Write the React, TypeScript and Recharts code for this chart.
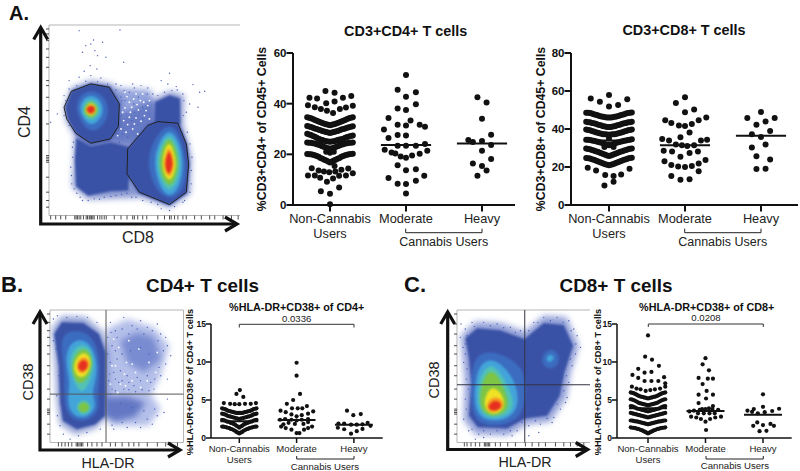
import { ScatterChart, Scatter, XAxis, YAxis, ReferenceLine, ReferenceArea } from "recharts";

type Pair = number[];

const categoryLines = [["Non-Cannabis", "Users"], ["Moderate"], ["Heavy"]];
const categoryTicks = [0, 100, 200];
const rowOffsets = [-30, -25, -20, -15, -10, -5, 0, 5, 10, 15, 20, 25, 30];
const midOffsets = [-27.5, -22.5, -17.5, -12.5, -7.5, -2.5, 2.5, 7.5, 12.5, 17.5, 22.5, 27.5];

// Panel A, CD4
const cd4Ticks = [0, 20, 40, 60];
const cd4NonRows = [
  [34.6, 34.2, 33.6, 33, 32.4, 31.9, 31.5, 31.9, 32.4, 33, 33.6, 34.2, 34.6],
  [31.2, 30.8, 30.2, 29.7, 29.2, 28.8, 28.4, 28.8, 29.2, 29.8, 30.2, 30.7, 31.1],
  [28.1, 27.6, 26.9, 26.2, 25.7, 25.2, 25, 25.2, 25.7, 26, 26.5, 27, 27.4],
  [24.7, 24.6, 24.3, 23.8, 23.2, 22.6, 22.2, 22.6, 23.2, 23.8, 24.3, 24.6, 24.7],
  [20.1, 20, 19.6, 19, 18.3, 17.6, 16.8, 17.6, 18.3, 19, 19.6, 20, 20.2],
];
const cd4NonMid = [
  [34.4, 33.9, 33.3, 32.7, 32.1, 31.7, 31.7, 32.1, 32.7, 33.3, 33.9, 34.4],
  [31, 30.5, 30, 29.5, 29, 28.6, 28.6, 29, 29.5, 30, 30.5, 30.9],
  [27.8, 27.2, 26.5, 25.9, 25.4, 25.1, 25.1, 25.4, 25.9, 26.2, 26.8, 27.2],
  [24.6, 24.4, 24, 23.5, 22.9, 22.4, 22.4, 22.9, 23.5, 24, 24.4, 24.6],
  [20, 19.8, 19.3, 18.6, 17.9, 17.2, 17.2, 17.9, 18.6, 19.3, 19.8, 20.1],
];
const cd4NonSingles: Pair[] = [
  [-6, 45], [6, 44.3], [-27, 42.3], [-17, 42], [17, 42.3], [28, 43], [-5, 40.2], [6, 40.9],
  [-29, 39.4], [-20, 38.6], [-12, 37.9], [-4, 37.2], [4, 36.3], [13, 37.9], [21, 38.5], [30, 39.2],
  [-5, 21], [5, 21], [0, 20.6], [6, 15.4],
  [-24, 14.5], [-15, 13.6], [-8, 13.2], [-1, 12.9], [7, 13.2], [15, 13.9], [24, 14.4],
  [-29, 11.6], [-20, 11.6], [-13, 10.8], [-4, 9.2], [4, 10.5], [12, 11.5], [21, 11.6], [30, 12.5],
  [-12, 5.4], [0, 4.4], [12, 6.9], [0, 0.3],
];
const cd4Moderate: Pair[] = [
  [0, 51.3], [-11, 45.5], [13, 44.5], [0, 42.7], [13, 39.8], [-11, 38.1], [0, 37.5], [-23, 34.3], [6, 33.4],
  [-11, 31.7], [0, 31.4], [18, 31.7], [25, 30.9], [-29, 29.8], [-23, 26.4], [-11, 27.6], [0, 27.4], [25, 24.1],
  [-11, 23.4], [0, 23.4], [13, 23.4], [-28, 21.8], [-19, 20.7], [-14, 20.3], [-7, 19.1], [0, 18.7], [8, 19.5],
  [18, 20.2], [28, 21.4], [-11, 15.7], [0, 13.7], [13, 14.1], [-23, 10.7], [24, 11.5], [13, 9.6], [-11, 8.4],
  [0, 8.3], [0, 4.5],
];
const cd4Heavy: Pair[] = [
  [-6, 42.5], [6, 40.5], [0, 34], [12, 27.7], [-18, 25.7], [-12, 24.9], [0, 25.3], [12, 23.7], [0, 21.4],
  [12, 18.2], [-12, 16.4], [0, 15.4], [6, 13.6], [-6, 11.5],
];
const cd4Means = [24.7, 23.7, 24.3];

// Panel A, CD8
const cd8Ticks = [0, 20, 40, 60, 80];
const cd8NonRows = [
  [48.6, 48.4, 47.8, 47.2, 46.6, 46.2, 46, 46.2, 46.6, 47.2, 47.8, 48.4, 48.7],
  [43.8, 43.5, 43, 42.4, 41.8, 41.3, 41, 41.3, 41.8, 42.4, 43, 43.5, 43.8],
  [39.7, 39.3, 38.7, 38, 37.5, 37.2, 37, 37.2, 37.5, 38, 38.7, 39.3, 39.7],
  [34.4, 34.2, 33.8, 33.3, 32.8, 32, 31.4, 32, 32.8, 33.3, 33.8, 34.2, 34.6],
  [29.7, 29.4, 28.7, 28, 27.3, 26.5, 25.8, 26.5, 27.3, 28, 28.7, 29.4, 29.8],
  [24.8, 24.5, 23.8, 23, 22.3, 21.5, 20.9, 21.5, 22.3, 23, 23.8, 24.5, 24.9],
];
const cd8NonMid = [
  [48.5, 48.1, 47.5, 46.9, 46.4, 46.1, 46.1, 46.4, 46.9, 47.5, 48.1, 48.5],
  [43.6, 43.2, 42.7, 42.1, 41.5, 41.1, 41.1, 41.5, 42.1, 42.7, 43.2, 43.6],
  [39.5, 39, 38.3, 37.7, 37.3, 37.1, 37.1, 37.3, 37.7, 38.3, 39, 39.5],
  [34.3, 34, 33.5, 33, 32.4, 31.7, 31.7, 32.4, 33, 33.5, 34, 34.4],
  [29.5, 29, 28.3, 27.6, 26.9, 26.1, 26.1, 26.9, 27.6, 28.3, 29, 29.6],
  [24.6, 24.1, 23.4, 22.6, 21.9, 21.2, 21.2, 21.9, 22.6, 23.4, 24.1, 24.7],
];
const cd8NonSingles: Pair[] = [
  [0, 57.9], [-24, 56.1], [24, 55.6], [-12, 54.4], [0, 51.9], [12, 52.6], [-6, 30.5], [6, 30.5], [0, 35],
  [-28, 19.6], [-17, 18.2], [-5, 15.8], [6, 15.3], [16, 16.1], [27, 19.1], [6, 12.3], [-6, 10.2],
];
const cd8Moderate: Pair[] = [
  [0, 56.7], [-12, 53.7], [12, 50.2], [0, 48.8], [-26, 44.6], [-18, 43.2], [-8, 41.9], [0, 41.6], [9, 42.6],
  [18, 44.6], [28, 46.1], [6, 38.1], [-6, 35.6], [-30, 34.7], [-21, 33.9], [21, 33.9], [29, 34.4], [-12, 31.9],
  [-4, 31.4], [3, 31], [12, 31.4], [-28, 28.6], [-17, 28.2], [6, 27.4], [17, 28.1], [-6, 25.4], [-27, 23],
  [27, 23.7], [-18, 21], [-9, 20.2], [0, 20], [9, 20.5], [18, 21.9], [-18, 15.3], [18, 17.7], [-6, 13.3], [6, 13.5],
];
const cd8Heavy: Pair[] = [
  [0, 49], [-18, 45.8], [18, 45.8], [6, 43.9], [-6, 42.3], [12, 38.9], [-12, 37.2], [0, 35.8], [6, 31.9],
  [-12, 30.2], [-6, 25.6], [12, 24], [-6, 18.9], [6, 19.1],
];
const cd8Means = [34, 31.4, 36.5];

// Panel B
const smallTicks = [0, 5, 10, 15];
const drCd4NonRows = [
  [3.9, 3.8, 3.6, 3.5, 3.4, 3.3, 3.3, 3.3, 3.4, 3.5, 3.6, 3.8, 3.9],
  [3.2, 3.1, 2.9, 2.8, 2.7, 2.6, 2.5, 2.6, 2.7, 2.8, 2.9, 3.1, 3.2],
  [2.4, 2.3, 2.15, 2, 1.85, 1.6, 1.35, 1.6, 1.85, 2, 2.15, 2.3, 2.4],
  [1.5, 1.45, 1.35, 1.2, 1.05, 0.8, 0.6, 0.8, 1.05, 1.2, 1.35, 1.45, 1.5],
];
const drCd4NonMid = [
  [3.85, 3.7, 3.55, 3.45, 3.35, 3.3, 3.3, 3.35, 3.45, 3.55, 3.7, 3.85],
  [3.15, 3, 2.85, 2.75, 2.65, 2.55, 2.55, 2.65, 2.75, 2.85, 3, 3.15],
  [2.35, 2.2, 2.1, 1.95, 1.75, 1.5, 1.5, 1.75, 1.95, 2.1, 2.2, 2.35],
  [1.5, 1.4, 1.3, 1.15, 0.95, 0.7, 0.7, 0.95, 1.15, 1.3, 1.4, 1.5],
];
const drCd4NonSingles: Pair[] = [
  [1, 6.3], [-5, 5.8], [7, 5.4], [-27, 4.6], [-16, 4.5], [-8, 4.45], [0, 4.45], [10, 4.5], [20, 4.5], [29, 4.6],
];
const drCd4Moderate: Pair[] = [
  [0, 9.9], [0, 8.2], [6, 5.8], [-6, 5], [-17, 4.5], [2, 3.9], [-8, 3.9], [18, 4.2], [10, 3.9], [-28, 3.6],
  [-19, 3.4], [-9, 3.1], [0, 2.85], [9, 3], [20, 3.2], [29, 3.5], [-29, 2.4], [-20, 2.5], [-9, 2.4], [0, 2.3],
  [9, 2.4], [20, 2.5], [-27, 1.5], [-19, 1.3], [-9, 1.1], [0, 0.65], [5, 0.65], [13, 1.1], [20, 1.3], [27, 1.5],
  [-14, 2], [-3, 1.85], [12, 1.85], [20, 2.1], [-23, 1.8],
];
const drCd4Heavy: Pair[] = [
  [-12, 3.6], [-1, 3], [12, 3.15], [-27, 1.9], [-17, 1.9], [-5, 1.75], [5, 1.75], [15, 1.8], [24, 2], [29, 1.6],
  [-28, 1.35], [-17, 1.15], [-5, 0.57], [5, 0.9], [15, 1.2],
];
const drCd4Means = [2.2, 2.37, 1.75];

// Panel C
const drCd8NonRows = [
  [6, 5.9, 5.7, 5.5, 5.4, 5.3, 5.2, 5.3, 5.4, 5.5, 5.7, 5.9, 6],
  [5.1, 5, 4.8, 4.6, 4.5, 4.4, 4.3, 4.4, 4.5, 4.6, 4.8, 5, 5.1],
  [4.2, 4.1, 3.9, 3.8, 3.7, 3.6, 3.5, 3.6, 3.7, 3.8, 3.9, 4.1, 4.2],
  [3.3, 3.2, 3.1, 3, 2.9, 2.8, 2.7, 2.8, 2.9, 3, 3.1, 3.2, 3.3],
  [2.3, 2.25, 2.2, 2.1, 2, 1.9, 1.8, 1.9, 2, 2.1, 2.2, 2.25, 2.3],
  [1.4, 1.35, 1.25, 1.15, 1, 0.8, 0.6, 0.8, 1, 1.15, 1.25, 1.35, 1.4],
];
const drCd8NonMid = [
  [5.95, 5.8, 5.6, 5.45, 5.35, 5.25, 5.25, 5.35, 5.45, 5.6, 5.8, 5.95],
  [5.05, 4.9, 4.7, 4.55, 4.45, 4.35, 4.35, 4.45, 4.55, 4.7, 4.9, 5.05],
  [4.15, 4, 3.85, 3.75, 3.65, 3.55, 3.55, 3.65, 3.75, 3.85, 4, 4.15],
  [3.25, 3.15, 3.05, 2.95, 2.85, 2.75, 2.75, 2.85, 2.95, 3.05, 3.15, 3.25],
  [2.3, 2.2, 2.15, 2.05, 1.95, 1.85, 1.85, 1.95, 2.05, 2.15, 2.2, 2.3],
  [1.35, 1.3, 1.2, 1.05, 0.9, 0.7, 0.7, 0.9, 1.05, 1.2, 1.3, 1.35],
];
const drCd8NonSingles: Pair[] = [
  [0, 13.5], [-5, 10.7], [7, 10.3], [-17, 9.1], [19, 9.5], [-27, 8.3], [-6, 8.6], [6, 8.7], [28, 8], [-17, 7.9],
  [-6, 7.5], [6, 7.5], [18, 7.5], [30, 7.2], [-28, 6.75], [-20, 6.5], [-13, 6.4], [-4, 6.2], [4, 6.3], [12, 6.4],
  [21, 6.5], [30, 6.75],
];
const drCd8Moderate: Pair[] = [
  [0, 10.5], [-5, 9.7], [6, 8.9], [-12, 7.9], [4, 7.8], [13, 7.8], [-5, 7.1], [2, 6.2], [-12, 5.7], [13, 5.7],
  [1, 5.2], [-12, 4.6], [13, 4.2], [6, 3.9], [-6, 3.8], [-28, 3.5], [-20, 3.6], [-10, 3.7], [0, 3.8], [12, 3.8],
  [22, 3.7], [-13, 3.25], [-3, 3.25], [7, 3.25], [16, 3.25], [-25, 2.8], [-16, 2.7], [-8, 2.5], [0, 2.15], [8, 2.5],
  [17, 2.7], [27, 2.8], [1, 1.05],
];
const drCd8Heavy: Pair[] = [
  [0, 5.75], [0, 4.1], [-16, 3.8], [28, 3.85], [-27, 3.6], [-19, 3.45], [-9, 3.25], [3, 3.4], [16, 3.55], [-17, 1.6],
  [-10, 2.05], [0, 1.7], [13, 1.85], [19, 1.6], [-6, 0.9], [6, 0.95],
];
const drCd8Means = [3.9, 3.55, 3.07];

// Flow plots: readings on an arbitrary fluorescence scale
const densityColors = ["#3a52a6", "#3b6cc0", "#43a4da", "#52c2b4", "#7ec544", "#f0e224", "#f6981f", "#e5301f"];
type Contour = { level: number; pts: Pair[] };
type Cloud = { pts: Pair[]; color: string; opacity: number };

const aDomainX = [145, 717];
const aDomainY = [73, 645];
const aRugX = [150, 165, 180, 195, 222, 226, 230, 235, 240, 248, 256, 260, 265, 268, 272, 276, 280, 290, 297, 303, 310, 316, 340, 360, 378, 395, 400, 410, 425, 437, 470, 490, 505, 510, 520, 530, 545, 555, 580, 600, 625, 640, 665, 690, 710];
const aRugY = [85, 100, 120, 145, 170, 200, 240, 255, 290, 330, 370, 420, 465, 470, 475, 480, 485, 530, 575, 600, 620];
const aClouds: Cloud[] = [
  { pts: [[335, 262], [450, 268], [470, 372], [400, 425], [340, 425], [352, 330]], color: "#6f84d0", opacity: 0.75 },
  { pts: [[222, 410], [215, 560], [262, 596], [420, 590], [505, 622], [566, 580], [570, 470], [545, 370], [548, 285], [505, 272], [460, 295]], color: "#5268bb", opacity: 0.7 },
  { pts: [[192, 320], [212, 262], [270, 240], [335, 250], [364, 310], [340, 420], [230, 420], [196, 360]], color: "#5268bb", opacity: 0.7 },
];
const aDensity: Contour[] = [
  { level: 0, pts: [[192, 320], [212, 270], [270, 248], [328, 258], [358, 310], [354, 380], [328, 420], [270, 432], [225, 400], [200, 355]] },
  { level: 0, pts: [[226, 412], [270, 436], [330, 425], [388, 440], [382, 570], [330, 572], [262, 586], [226, 558], [222, 480]] },
  { level: 0, pts: [[376, 520], [378, 445], [440, 372], [470, 360], [532, 365], [558, 430], [565, 490], [558, 578], [505, 615], [412, 578]] },
  { level: 0, pts: [[462, 304], [505, 284], [536, 294], [538, 372], [460, 372]] },
  { level: 1, pts: [[222, 320], [238, 282], [270, 268], [308, 282], [326, 325], [312, 372], [275, 398], [243, 372]] },
  { level: 2, pts: [[234, 320], [248, 293], [270, 283], [296, 294], [310, 325], [298, 357], [272, 378], [247, 356]] },
  { level: 3, pts: [[243, 325], [254, 301], [270, 294], [290, 303], [300, 327], [289, 349], [270, 362], [250, 349]] },
  { level: 4, pts: [[248, 327], [257, 308], [270, 302], [285, 310], [293, 327], [284, 345], [270, 353], [254, 343]] },
  { level: 5, pts: [[252, 327], [261, 312], [270, 307], [281, 313], [288, 327], [280, 341], [270, 347], [258, 340]] },
  { level: 6, pts: [[254, 327], [262, 315], [270, 311], [280, 316], [285, 327], [279, 338], [270, 343], [260, 337]] },
  { level: 7, pts: [[256, 327], [263, 318], [270, 314], [279, 318], [284, 327], [278, 336], [270, 340], [261, 335]] },
  { level: 1, pts: [[436, 490], [456, 418], [494, 372], [530, 382], [555, 470], [556, 560], [510, 604], [462, 570]] },
  { level: 2, pts: [[456, 482], [474, 420], [505, 382], [534, 420], [549, 490], [535, 562], [505, 594], [474, 560]] },
  { level: 3, pts: [[464, 485], [480, 428], [505, 396], [528, 430], [541, 490], [528, 548], [505, 576], [480, 548]] },
  { level: 4, pts: [[472, 487], [486, 432], [505, 408], [523, 440], [534, 490], [522, 538], [505, 560], [485, 538]] },
  { level: 5, pts: [[482, 487], [492, 440], [505, 424], [517, 450], [526, 490], [517, 526], [505, 542], [490, 526]] },
  { level: 6, pts: [[487, 487], [496, 452], [504, 438], [513, 460], [520, 490], [513, 516], [504, 532], [493, 516]] },
  { level: 7, pts: [[491, 487], [498, 462], [504, 450], [510, 466], [515, 490], [510, 510], [503, 522], [495, 510]] },
];
const aCd4Gate: Pair[] = [[190, 320], [212, 272], [270, 250], [325, 260], [355, 310], [352, 378], [328, 415], [270, 428], [225, 398], [198, 355]];
const aCd8Gate: Pair[] = [[378, 520], [380, 445], [440, 375], [470, 363], [530, 368], [555, 430], [562, 490], [555, 575], [505, 612], [415, 575]];
const aSpecks: Pair[] = [
  [235, 90], [357, 88], [278, 118], [305, 125], [270, 130], [255, 135], [282, 150], [245, 155], [290, 165], [315, 170], [368, 185], [268, 195], [288, 205], [250, 212], [270, 225], [235, 230], [300, 232], [205, 240],
  [345, 250], [360, 255], [395, 250], [420, 255], [505, 218], [480, 240], [500, 250], [525, 258], [575, 252], [595, 275], [610, 272], [590, 320], [565, 310], [548, 300], [555, 335], [150, 365], [190, 285], [170, 340],
  [215, 440], [210, 500], [213, 550], [228, 578], [245, 600], [280, 595], [310, 590], [345, 585], [378, 578], [405, 590], [450, 605], [480, 625], [505, 630], [550, 600], [570, 550], [572, 470], [558, 395],
  [360, 290], [372, 300], [385, 275], [398, 310], [412, 290], [425, 320], [438, 280], [445, 340], [375, 340], [392, 360], [410, 372], [365, 400], [380, 410], [425, 355], [400, 335], [355, 425], [370, 270], [455, 280],
  [218, 425], [216, 470], [212, 525], [220, 565], [238, 590], [262, 600], [296, 596], [330, 588], [362, 582], [392, 590], [425, 600], [470, 612], [520, 618], [545, 605], [566, 575], [570, 510], [566, 430], [546, 345],
  [545, 280], [528, 268], [512, 270], [490, 275], [470, 285], [195, 300], [205, 265], [228, 255], [255, 242], [290, 243], [320, 250], [345, 268], [362, 300], [362, 345], [350, 400], [190, 345], [205, 375], [400, 262], [440, 262],
];
const aHoles: Pair[] = [
  [372, 322], [388, 335], [405, 352], [418, 300], [430, 345], [395, 385], [380, 372], [412, 328], [440, 315], [368, 360], [398, 295], [425, 280], [385, 305], [360, 385], [410, 400], [445, 300],
  [378, 288], [392, 320], [405, 280], [420, 362], [435, 330], [365, 335], [375, 395], [400, 370], [385, 350], [428, 305], [445, 355], [408, 312], [372, 275], [350, 405],
];

const bDomainX = [150, 548];
const bDomainY = [133, 530];
const bRugX = [175, 185, 195, 205, 215, 228, 232, 236, 240, 244, 248, 262, 275, 290, 305, 330, 345, 365, 385, 400, 415, 440, 470, 495, 510, 530];
const bRugY = [145, 170, 195, 215, 240, 265, 300, 325, 370, 400, 430, 435, 440, 445, 475, 505];
const bClouds: Cloud[] = [
  { pts: [[318, 190], [380, 160], [460, 185], [505, 240], [480, 330], [450, 385], [480, 430], [445, 480], [330, 480], [318, 440]], color: "#8c9cdd", opacity: 0.65 },
  { pts: [[360, 225], [410, 200], [460, 215], [482, 280], [430, 320], [380, 290]], color: "#5c72c4", opacity: 0.65 },
  { pts: [[316, 395], [380, 392], [435, 410], [405, 452], [345, 468], [316, 455]], color: "#4f65ba", opacity: 0.8 },
  { pts: [[155, 190], [185, 152], [255, 155], [305, 195], [325, 260], [325, 450], [285, 488], [225, 505], [180, 475], [170, 400], [165, 300]], color: "#5268bb", opacity: 0.65 },
];
const bDensity: Contour[] = [
  { level: 0, pts: [[162, 205], [185, 170], [250, 172], [296, 205], [316, 260], [316, 380], [314, 450], [285, 476], [230, 490], [188, 465], [180, 410], [176, 300]] },
  { level: 1, pts: [[178, 225], [202, 195], [258, 195], [294, 242], [300, 330], [290, 392], [300, 438], [250, 474], [200, 450], [191, 392], [195, 320]] },
  { level: 2, pts: [[192, 280], [214, 222], [262, 220], [292, 280], [288, 342], [272, 385], [294, 425], [250, 464], [208, 442], [202, 392], [212, 350]] },
  { level: 3, pts: [[205, 290], [225, 238], [264, 236], [284, 285], [272, 347], [245, 388], [222, 352]] },
  { level: 4, pts: [[213, 295], [232, 252], [264, 248], [281, 290], [264, 337], [240, 358], [220, 337]] },
  { level: 5, pts: [[220, 295], [238, 262], [264, 262], [275, 295], [260, 328], [240, 338], [224, 322]] },
  { level: 6, pts: [[227, 297], [244, 272], [264, 277], [270, 300], [254, 323], [234, 323]] },
  { level: 7, pts: [[232, 297], [246, 280], [262, 287], [263, 305], [249, 318], [236, 313]] },
  { level: 3, pts: [[220, 425], [250, 393], [282, 425], [250, 456]] },
  { level: 4, pts: [[228, 425], [250, 403], [274, 425], [250, 447]] },
];
const bSpecks: Pair[] = [
  [160, 160], [172, 150], [200, 155], [230, 152], [262, 155], [290, 170], [168, 250], [160, 225], [176, 330], [170, 390], [172, 450], [180, 480], [190, 505], [210, 520], [235, 510], [260, 500], [300, 490], [340, 490],
  [380, 485], [420, 485], [455, 475], [490, 440], [500, 400], [500, 340], [510, 270], [495, 215], [470, 175], [420, 165], [370, 155], [330, 170], [345, 195], [335, 240], [350, 280], [340, 320], [355, 350], [335, 370],
  [380, 330], [400, 360], [420, 345], [370, 370], [450, 350], [395, 180], [440, 185], [480, 205], [500, 240], [480, 330], [460, 370], [330, 290], [325, 345], [360, 315], [410, 335], [440, 330], [385, 350], [345, 375],
  [322, 215], [332, 200], [350, 215], [365, 190], [385, 205], [410, 190], [430, 205], [455, 195], [472, 225], [488, 255], [495, 295], [475, 305], [462, 340], [445, 375], [425, 372], [405, 378], [385, 372], [365, 345],
  [345, 340], [328, 325], [322, 265], [345, 255], [365, 265], [390, 255], [420, 245], [445, 265], [330, 385], [360, 412], [395, 425], [430, 435], [462, 430], [470, 450], [440, 460], [405, 470], [365, 470], [335, 478],
];
const bHoles: Pair[] = [
  [345, 300], [372, 325], [395, 345], [420, 365], [360, 355], [335, 300], [378, 290], [405, 320], [440, 345], [355, 245], [340, 220], [385, 225], [465, 320], [415, 250], [445, 290], [375, 360], [330, 355], [470, 260], [395, 295], [352, 380],
];

const cDomainX = [170, 570];
const cDomainY = [133, 530];
const cRugX = [192, 200, 212, 225, 238, 252, 256, 260, 264, 268, 285, 300, 322, 345, 375, 395, 415, 435, 465, 490, 510, 530, 550];
const cRugY = [145, 175, 205, 240, 265, 300, 330, 370, 400, 430, 435, 440, 445, 475, 505];
const cClouds: Cloud[] = [
  { pts: [[182, 210], [225, 168], [300, 172], [372, 198], [430, 150], [498, 155], [535, 240], [510, 320], [498, 395], [450, 468], [380, 475], [322, 508], [225, 505], [190, 462], [194, 350], [188, 280]], color: "#5f74c4", opacity: 0.7 },
];
const cDensity: Contour[] = [
  { level: 0, pts: [[195, 218], [230, 188], [300, 194], [372, 220], [430, 172], [490, 178], [518, 240], [492, 320], [478, 390], [440, 450], [375, 458], [320, 488], [232, 484], [206, 450], [212, 350], [206, 280]] },
  { level: 1, pts: [[212, 300], [240, 256], [300, 262], [362, 298], [378, 350], [373, 442], [320, 480], [244, 480], [210, 442]] },
  { level: 2, pts: [[226, 320], [255, 280], [296, 286], [343, 340], [358, 410], [332, 460], [258, 470], [218, 432]] },
  { level: 3, pts: [[234, 340], [262, 296], [292, 306], [328, 370], [344, 420], [317, 454], [258, 460], [230, 422]] },
  { level: 4, pts: [[242, 360], [264, 310], [292, 326], [313, 375], [329, 420], [302, 449], [260, 451], [236, 422]] },
  { level: 5, pts: [[247, 410], [269, 360], [297, 372], [318, 415], [297, 444], [263, 446]] },
  { level: 6, pts: [[255, 420], [274, 392], [302, 397], [313, 420], [292, 438], [266, 440]] },
  { level: 7, pts: [[262, 420], [281, 402], [302, 410], [303, 426], [286, 436], [268, 433]] },
  { level: 1, pts: [[417, 280], [445, 245], [478, 262], [474, 303], [440, 314]] },
  { level: 2, pts: [[432, 280], [450, 262], [464, 274], [451, 294]] },
];
const cSpecks: Pair[] = [
  [182, 175], [195, 190], [215, 170], [250, 170], [290, 175], [330, 185], [360, 195], [400, 170], [430, 155], [470, 155], [505, 165], [530, 210], [540, 245], [515, 300], [505, 350], [500, 395], [480, 430], [455, 470], [420, 475], [385, 480],
  [350, 495], [310, 505], [270, 505], [235, 505], [205, 495], [190, 460], [195, 400], [198, 340], [190, 290], [188, 245], [180, 215], [415, 500], [385, 510], [525, 265], [495, 410], [460, 455], [335, 510], [250, 515], [225, 520], [520, 190],
  [200, 210], [222, 182], [270, 180], [310, 186], [345, 200], [385, 195], [412, 170], [450, 165], [488, 170], [512, 195], [526, 235], [510, 280], [498, 330], [490, 375], [470, 415], [440, 458], [405, 465], [365, 470], [330, 495], [290, 495],
  [250, 495], [215, 490], [198, 430], [204, 370], [200, 310], [195, 265], [195, 235],
];

function rowsToPoints(rows: number[][], mids: number[][]): Pair[] {
  return [
    ...rows.flatMap((row) => row.map((v, i) => [rowOffsets[i], v])),
    ...mids.flatMap((row) => row.map((v, i) => [midOffsets[i], v])),
  ];
}

function toPoints(center: number, pairs: Pair[]) {
  return pairs.map(([dx, y]) => ({ x: center + dx, y }));
}

function toXY(pts: Pair[]) {
  return pts.map(([x, y]) => ({ x, y }));
}

interface SwarmProps {
  left: number;
  right: number;
  top: number;
  bottom: number;
  firstCenter: number;
  step: number;
  ticks: number[];
  groups: Pair[][];
  means: number[];
  meanSpan: number;
  dot: number;
  big: boolean;
}

function Swarm(p: SwarmProps) {
  const pad = 30;
  const k = p.step / 100;
  const domain = [(p.left - p.firstCenter) / k, (p.right - p.firstCenter) / k];
  const tickFont = p.big ? 11.5 : 8.6;
  const catFont = p.big ? 12.8 : 9.6;
  const gap = p.big ? 15 : 11;
  const tickLen = p.big ? 6.5 : 5;
  const axisW = p.big ? 2 : 1.5;
  const CatTick = (t: any) => (
    <text x={t.x} y={t.y + (p.big ? 10 : 7)} textAnchor="middle" fontSize={catFont} fill="#222">
      {categoryLines[t.payload.value / 100].map((line, i) => (
        <tspan key={line} x={t.x} dy={i === 0 ? 0 : gap}>{line}</tspan>
      ))}
    </text>
  );
  return (
    <div style={{ position: "absolute", left: p.left - pad, top: p.top - 10 }}>
      <ScatterChart
        width={p.right - p.left + pad}
        height={p.bottom - p.top + 50}
        margin={{ top: 10, right: 0, bottom: 0, left: 0 }}
      >
        <XAxis
          type="number"
          dataKey="x"
          domain={domain}
          ticks={categoryTicks}
          interval={0}
          height={40}
          tick={CatTick}
          tickSize={tickLen}
          axisLine={{ stroke: "#111", strokeWidth: axisW }}
          tickLine={{ stroke: "#111", strokeWidth: axisW }}
        />
        <YAxis
          type="number"
          dataKey="y"
          width={pad}
          domain={[p.ticks[0], p.ticks[p.ticks.length - 1]]}
          ticks={p.ticks}
          interval={0}
          tickSize={tickLen}
          tickMargin={0}
          tick={{ fontSize: tickFont, fontWeight: "bold", fill: "#111" }}
          axisLine={{ stroke: "#111", strokeWidth: axisW }}
          tickLine={{ stroke: "#111", strokeWidth: axisW }}
        />
        {p.groups.map((g, i) => (
          <Scatter
            key={i}
            data={toPoints(categoryTicks[i], g)}
            isAnimationActive={false}
            shape={(s: any) => <circle cx={s.cx} cy={s.cy} r={p.dot} fill="#111" />}
          />
        ))}
        {p.means.map((m, i) => (
          <ReferenceLine
            key={i}
            segment={[
              { x: categoryTicks[i] - p.meanSpan, y: m },
              { x: categoryTicks[i] + p.meanSpan, y: m },
            ]}
            stroke="#111"
            strokeWidth={2}
          />
        ))}
      </ScatterChart>
    </div>
  );
}

interface FlowProps {
  left: number;
  top: number;
  size: number;
  domainX: number[];
  domainY: number[];
  rugX: number[];
  rugY: number[];
  density: Contour[];
  clouds: Cloud[];
  specks: Pair[];
  holes?: Pair[];
  gates?: Pair[][];
  crossX?: number;
  crossY?: number;
  crossColor?: string;
}

function FlowPlot(p: FlowProps) {
  const pad = 10;
  const w = p.size + pad + 1;
  const h = p.size + pad + 1;
  const margin = { top: 1, right: 0, bottom: 0, left: 0 };
  const noDot = () => <g />;
  const xAxis = (ticks?: number[]) => (
    <XAxis
      type="number"
      dataKey="x"
      domain={p.domainX}
      allowDataOverflow
      ticks={ticks}
      interval={0}
      height={pad}
      tick={noDot}
      tickSize={4}
      axisLine={false}
      tickLine={ticks ? { stroke: "#222", strokeWidth: 0.8 } : false}
    />
  );
  const yAxis = (ticks?: number[]) => (
    <YAxis
      type="number"
      dataKey="y"
      domain={p.domainY}
      reversed
      allowDataOverflow
      ticks={ticks}
      interval={0}
      width={pad}
      tick={noDot}
      tickSize={3}
      axisLine={false}
      tickLine={ticks ? { stroke: "#222", strokeWidth: 0.8 } : false}
    />
  );
  return (
    <>
      <div style={{ position: "absolute", left: p.left - pad, top: p.top - 1, filter: "blur(3px)" }}>
        <ScatterChart width={w} height={h} margin={margin}>
          {xAxis()}
          {yAxis()}
          {p.clouds.map((c, i) => (
            <Scatter
              key={i}
              data={toXY(c.pts)}
              isAnimationActive={false}
              shape={noDot}
              line={{ fill: c.color, fillOpacity: c.opacity, stroke: "none" }}
              lineJointType="linearClosed"
            />
          ))}
        </ScatterChart>
      </div>
      <div style={{ position: "absolute", left: p.left - pad, top: p.top - 1, filter: "blur(1.2px)" }}>
        <ScatterChart width={w} height={h} margin={margin}>
          {xAxis()}
          {yAxis()}
          {p.density.map((d, i) => (
            <Scatter
              key={i}
              data={toXY(d.pts)}
              isAnimationActive={false}
              shape={noDot}
              line={{ fill: densityColors[d.level], stroke: "none" }}
              lineJointType={d.level === 0 ? "linearClosed" : "basisClosed"}
            />
          ))}
        </ScatterChart>
      </div>
      <div style={{ position: "absolute", left: p.left - pad, top: p.top - 1 }}>
        <ScatterChart width={w} height={h} margin={margin}>
          {xAxis(p.rugX)}
          {yAxis(p.rugY)}
          <ReferenceArea
            x1={p.domainX[0]}
            x2={p.domainX[1]}
            y1={p.domainY[0]}
            y2={p.domainY[1]}
            fill="none"
            stroke="#b5b5b5"
            strokeWidth={1}
          />
          <Scatter
            data={toXY(p.specks)}
            isAnimationActive={false}
            shape={(s: any) => <circle cx={s.cx} cy={s.cy} r={0.7} fill="#4a60b8" />}
          />
          {p.holes && (
            <Scatter
              data={toXY(p.holes)}
              isAnimationActive={false}
              shape={(s: any) => <circle cx={s.cx} cy={s.cy} r={0.9} fill="#fff" />}
            />
          )}
          {p.gates?.map((g, i) => (
            <Scatter
              key={i}
              data={toXY(g)}
              isAnimationActive={false}
              shape={noDot}
              line={{ fill: "none", stroke: "#222", strokeWidth: 1 }}
              lineJointType="linearClosed"
            />
          ))}
          {p.crossX !== undefined && <ReferenceLine x={p.crossX} stroke={p.crossColor} strokeWidth={1} />}
          {p.crossY !== undefined && <ReferenceLine y={p.crossY} stroke={p.crossColor} strokeWidth={1} />}
        </ScatterChart>
      </div>
    </>
  );
}

function Arrows({ x, y, topY, rightX, headW, headL }: { x: number; y: number; topY: number; rightX: number; headW: number; headL: number }) {
  return (
    <g fill="none" stroke="#111" strokeWidth={3.2} strokeLinejoin="miter">
      <path d={`M${rightX - 2} ${y} H${x} V${topY + 2}`} />
      <path d={`M${x - headW} ${topY + headL} L${x} ${topY} L${x + headW} ${topY + headL}`} />
      <path d={`M${rightX - headL} ${y - headW} L${rightX} ${y} L${rightX - headL} ${y + headW}`} />
    </g>
  );
}

function CannabisBracket({ x1, x2, y, tick, labelX, labelY, font }: { x1: number; x2: number; y: number; tick: number; labelX: number; labelY: number; font: number }) {
  return (
    <>
      <path d={`M${x1} ${y - tick} V${y} H${x2} V${y - tick}`} fill="none" stroke="#222" strokeWidth={1} />
      <text x={labelX} y={labelY} textAnchor="middle" fontSize={font} fill="#222">Cannabis Users</text>
    </>
  );
}

export default function App() {
  return (
    <div
      style={{
        position: "absolute",
        left: 0,
        top: 0,
        width: 800,
        height: 471,
        background: "#fff",
        overflow: "hidden",
        fontFamily: "'Liberation Sans', Arial, sans-serif",
      }}
    >
      <FlowPlot
        left={48.5}
        top={24.5}
        size={190.5}
        domainX={aDomainX}
        domainY={aDomainY}
        rugX={aRugX}
        rugY={aRugY}
        density={aDensity}
        clouds={aClouds}
        specks={aSpecks}
        holes={aHoles}
        gates={[aCd4Gate, aCd8Gate]}
      />
      <FlowPlot
        left={50}
        top={309.5}
        size={132.5}
        domainX={bDomainX}
        domainY={bDomainY}
        rugX={bRugX}
        rugY={bRugY}
        density={bDensity}
        clouds={bClouds}
        specks={bSpecks}
        holes={bHoles}
        crossX={317}
        crossY={385}
        crossColor="#555"
      />
      <FlowPlot
        left={456.7}
        top={309.5}
        size={132.5}
        domainX={cDomainX}
        domainY={cDomainY}
        rugX={cRugX}
        rugY={cRugY}
        density={cDensity}
        clouds={cClouds}
        specks={cSpecks}
        crossX={373}
        crossY={357}
        crossColor="#334"
      />

      <Swarm
        left={292.7}
        right={515}
        top={53}
        bottom={205}
        firstCenter={329.7}
        step={76}
        ticks={cd4Ticks}
        groups={[[...rowsToPoints(cd4NonRows, cd4NonMid), ...cd4NonSingles], cd4Moderate, cd4Heavy]}
        means={cd4Means}
        meanSpan={33}
        dot={3}
        big
      />
      <Swarm
        left={570.7}
        right={798}
        top={52.7}
        bottom={204.7}
        firstCenter={608.7}
        step={76}
        ticks={cd8Ticks}
        groups={[[...rowsToPoints(cd8NonRows, cd8NonMid), ...cd8NonSingles], cd8Moderate, cd8Heavy]}
        means={cd8Means}
        meanSpan={33}
        dot={3}
        big
      />
      <Swarm
        left={211}
        right={382.7}
        top={324.3}
        bottom={438.3}
        firstCenter={239.3}
        step={57.3}
        ticks={smallTicks}
        groups={[[...rowsToPoints(drCd4NonRows, drCd4NonMid), ...drCd4NonSingles], drCd4Moderate, drCd4Heavy]}
        means={drCd4Means}
        meanSpan={33}
        dot={2.1}
        big={false}
      />
      <Swarm
        left={617.3}
        right={792}
        top={324}
        bottom={438}
        firstCenter={648.3}
        step={57.5}
        ticks={smallTicks}
        groups={[[...rowsToPoints(drCd8NonRows, drCd8NonMid), ...drCd8NonSingles], drCd8Moderate, drCd8Heavy]}
        means={drCd8Means}
        meanSpan={33}
        dot={2.1}
        big={false}
      />

      <svg width={800} height={471} style={{ position: "absolute", left: 0, top: 0, pointerEvents: "none" }}>
        <Arrows x={40.7} y={224} topY={27.5} rightX={237} headW={7} headL={12} />
        <Arrows x={40} y={450} topY={312} rightX={180} headW={7} headL={12} />
        <Arrows x={447.7} y={449.5} topY={312} rightX={587.7} headW={7} headL={12} />

        <text x={9} y={19.5} fontSize={20} fontWeight="bold" fill="#111">A.</text>
        <text x={1} y={292} fontSize={22} fontWeight="bold" fill="#111">B.</text>
        <text x={404} y={292} fontSize={22} fontWeight="bold" fill="#111">C.</text>

        <text transform="translate(29.5,122) rotate(-90)" textAnchor="middle" fontSize={16} fill="#222">CD4</text>
        <text x={138} y={242.5} textAnchor="middle" fontSize={16} fill="#222">CD8</text>
        <text transform="translate(33,382) rotate(-90)" textAnchor="middle" fontSize={14.5} fill="#222">CD38</text>
        <text x={108} y={468} textAnchor="middle" fontSize={14.3} fill="#222">HLA-DR</text>
        <text transform="translate(439,380) rotate(-90)" textAnchor="middle" fontSize={14.5} fill="#222">CD38</text>
        <text x={525} y={467} textAnchor="middle" fontSize={14.3} fill="#222">HLA-DR</text>

        <text x={405.7} y={35.5} textAnchor="middle" fontSize={14.4} fontWeight="bold" fill="#111">CD3+CD4+ T cells</text>
        <text x={684} y={35} textAnchor="middle" fontSize={14.4} fontWeight="bold" fill="#111">CD3+CD8+ T cells</text>
        <text x={202.5} y={292} textAnchor="middle" fontSize={18.9} fontWeight="bold" fill="#111">CD4+ T cells</text>
        <text x={616} y={292} textAnchor="middle" fontSize={18.9} fontWeight="bold" fill="#111">CD8+ T cells</text>

        <text transform="translate(266,129) rotate(-90)" textAnchor="middle" fontSize={12.3} fontWeight="bold" fill="#111">%CD3+CD4+ of CD45+ Cells</text>
        <text transform="translate(545,129) rotate(-90)" textAnchor="middle" fontSize={12.3} fontWeight="bold" fill="#111">%CD3+CD8+ of CD45+ Cells</text>
        <text transform="translate(192.7,382) rotate(-90)" textAnchor="middle" fontSize={9.2} fontWeight="bold" fill="#111">%HLA-DR+CD38+ of CD4+ T cells</text>
        <text transform="translate(601,382) rotate(-90)" textAnchor="middle" fontSize={9.2} fontWeight="bold" fill="#111">%HLA-DR+CD38+ of CD8+ T cells</text>

        <text x={296.7} y={310.5} textAnchor="middle" fontSize={10.8} fontWeight="bold" fill="#111">%HLA-DR+CD38+ of CD4+</text>
        <text x={706.7} y={310.5} textAnchor="middle" fontSize={10.8} fontWeight="bold" fill="#111">%HLA-DR+CD38+ of CD8+</text>
        <text x={296.7} y={321.5} textAnchor="middle" fontSize={9.6} fill="#222">0.0336</text>
        <text x={706} y={321} textAnchor="middle" fontSize={9.6} fill="#222">0.0208</text>
        <path d="M239.3 327.5 V324.3 H354 V327.5" fill="none" stroke="#333" strokeWidth={1} />
        <path d="M648.3 327 V324 H763.3 V327" fill="none" stroke="#333" strokeWidth={1} />

        <CannabisBracket x1={405.7} x2={482} y={232.7} tick={4} labelX={443.7} labelY={246} font={12.5} />
        <CannabisBracket x1={684.7} x2={761} y={232.7} tick={4} labelX={722.7} labelY={246} font={12.5} />
        <CannabisBracket x1={296.7} x2={354} y={459} tick={3} labelX={325} labelY={469.5} font={9.6} />
        <CannabisBracket x1={706} x2={763.3} y={459} tick={3} labelX={735} labelY={469} font={9.6} />
      </svg>
    </div>
  );
}
